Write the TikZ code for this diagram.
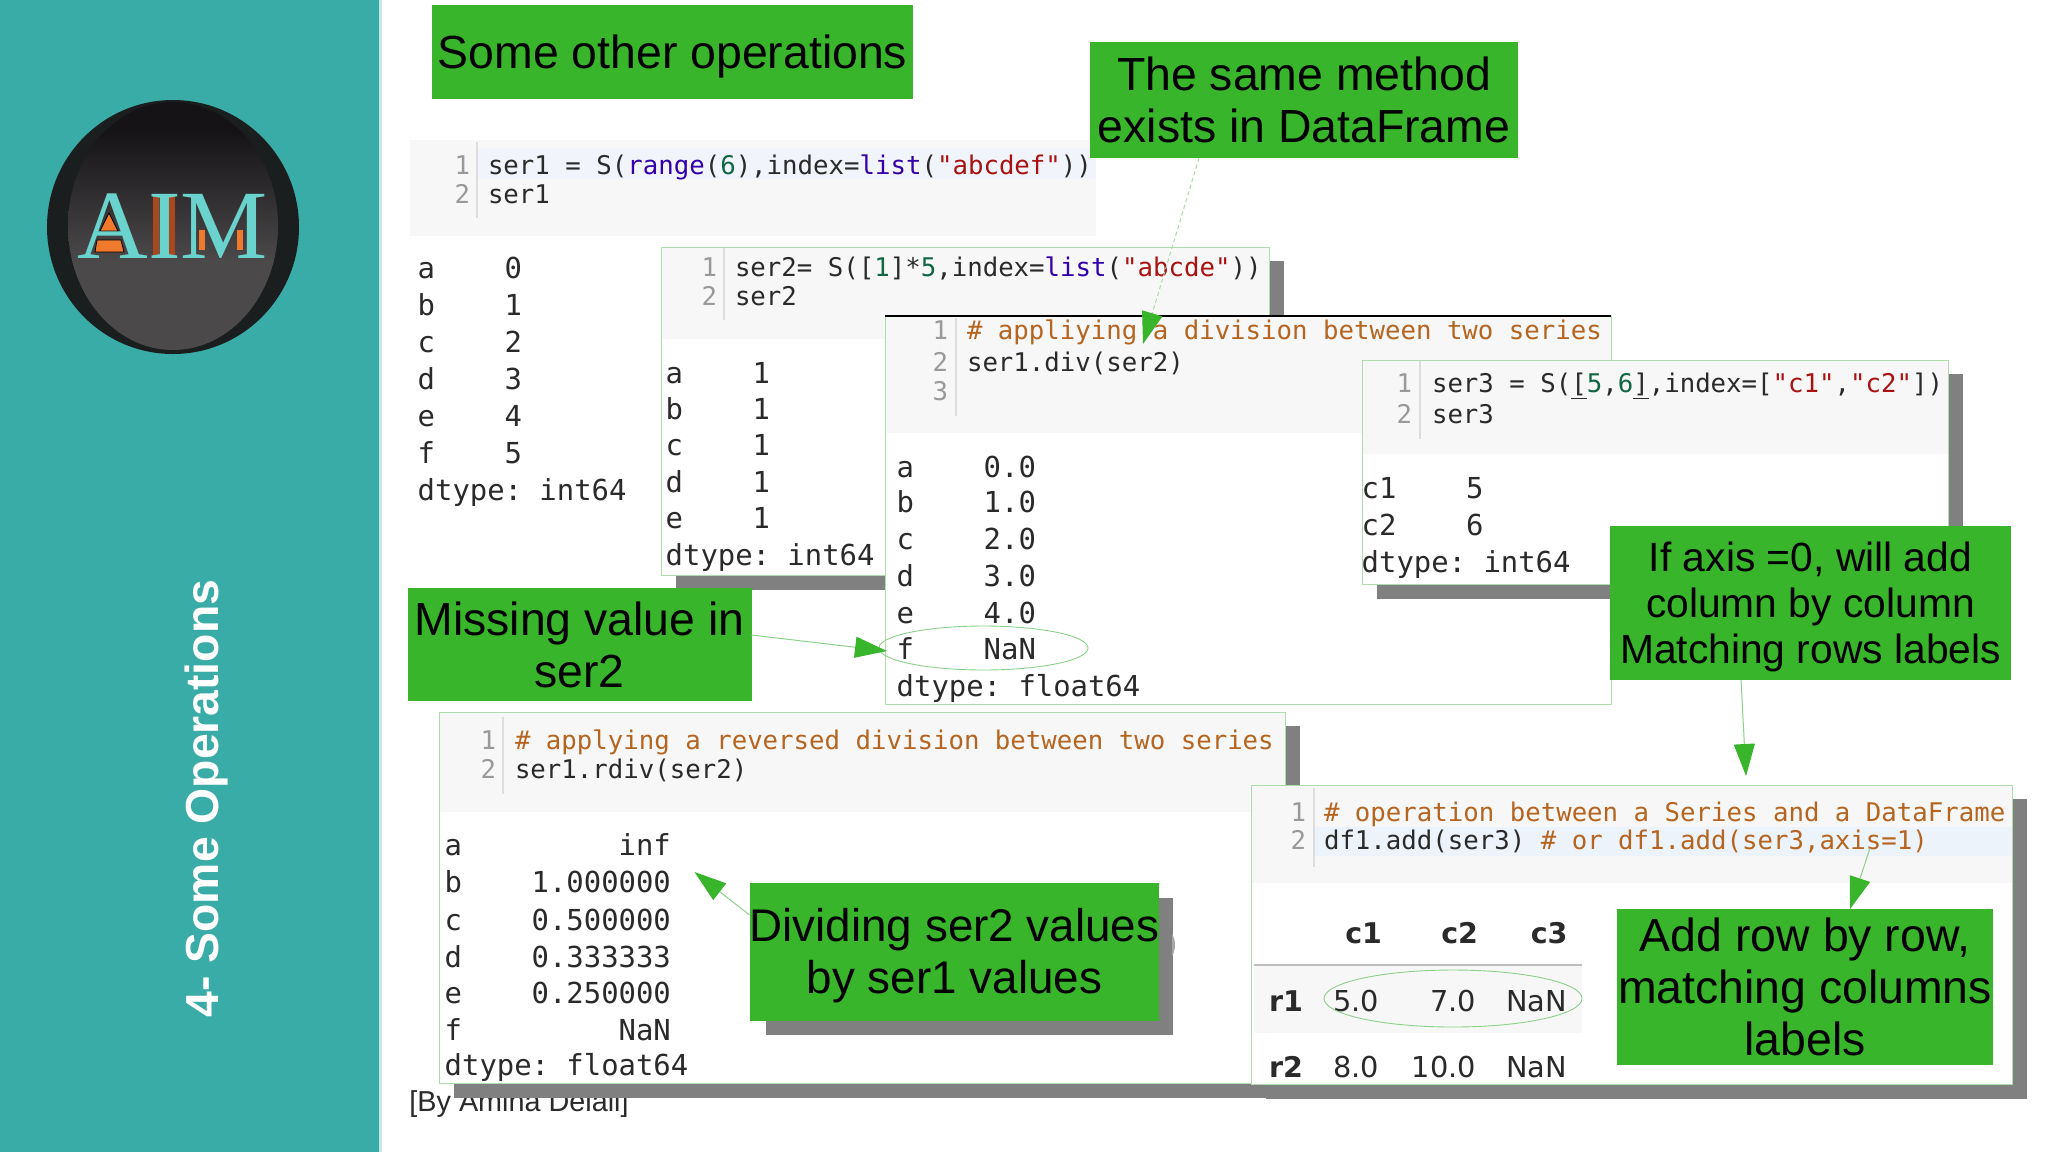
\documentclass[tikz,border=0pt]{standalone}
\usepackage{fontspec}
\setmainfont{Liberation Sans}
\newfontfamily\monof{DejaVu Sans Mono}
\newfontfamily\djf{DejaVu Sans}
\newfontfamily\lserif{Liberation Serif}
\usetikzlibrary{arrows.meta,shapes.geometric}
\definecolor{teal1}{HTML}{3AACA8}
\definecolor{teal2}{HTML}{C4E6E5}
\definecolor{gboxc}{HTML}{38B52B}
\definecolor{shadowc}{HTML}{808080}
\definecolor{cellbg}{HTML}{F7F7F7}
\definecolor{hlbg}{HTML}{F1F4FB}
\definecolor{hlbgb}{HTML}{EDF3FB}
\definecolor{cellb}{HTML}{AEDCAB}
\definecolor{connc}{HTML}{8CD08A}
\definecolor{conndc}{HTML}{A8DBA6}
\definecolor{gutc}{HTML}{DDDDDD}
\definecolor{numc}{HTML}{999999}
\definecolor{codec}{HTML}{2A2A2A}
\definecolor{kwc}{HTML}{3300AA}
\definecolor{numb}{HTML}{116644}
\definecolor{strc}{HTML}{AA1111}
\definecolor{comc}{HTML}{B5651F}
\definecolor{aimc}{HTML}{6AD3CE}
\definecolor{aimo}{HTML}{F07A2C}
\definecolor{aimd}{HTML}{A8481C}
\definecolor{logoa}{HTML}{151315}
\definecolor{logob}{HTML}{4B494A}
\definecolor{logorim}{HTML}{1B1E1E}
\newcommand{\cK}[1]{\textcolor{kwc}{#1}}
\newcommand{\cN}[1]{\textcolor{numb}{#1}}
\newcommand{\cS}[1]{\textcolor{strc}{#1}}
\newcommand{\cC}[1]{\textcolor{comc}{#1}}
\newcommand{\topgap}[1]{\rule{0pt}{#1}}
\tikzset{
  codetxt/.style={inner sep=0pt,outer sep=0pt,anchor=base west,text=codec,font=\fontsize{12.86}{15}\selectfont\monof},
  numtxt/.style={inner sep=0pt,outer sep=0pt,anchor=base east,text=numc,font=\fontsize{12.86}{15}\selectfont\monof},
  outtxt/.style={inner sep=0pt,outer sep=0pt,anchor=base west,text=codec,font=\fontsize{14.45}{17}\selectfont\monof},
  tabtxt/.style={inner sep=0pt,outer sep=0pt,anchor=base east,text=codec,font=\fontsize{14.4}{17}\selectfont\djf},
  tabhead/.style={tabtxt,font=\fontsize{14.25}{17}\selectfont\djf\bfseries},
  gbox/.style={fill=gboxc,inner sep=0pt,outer sep=0pt,align=center,text=black,font=\fontsize{23.2}{26}\selectfont},
  gsmall/.style={gbox,font=\fontsize{20.4}{23}\selectfont},
  ring/.style={ellipse,draw=connc,line width=0.45pt,inner sep=0pt,outer sep=0pt},
  conn/.style={draw=connc,line width=0.5pt,-{Triangle[length=16pt,width=10.5pt,color=gboxc,fill=gboxc]}},
  connd/.style={conn,draw=conndc,dash pattern=on 2pt off 1.5pt}
}
% shadow, white cell, grey code area, border:  x1 y1 x2 y2 ybg
\newcommand{\cellframe}[5]{%
  \fill[shadowc] (#1+15,#2+14) rectangle (#3+15,#4+15);
  \fill[white] (#1,#2) rectangle (#3,#4);
  \fill[cellbg] (#1,#2) rectangle (#3,#5);
  \draw[cellb,line width=0.5pt] (#1,#2) rectangle (#3,#4);
}
\newcommand{\gutter}[3]{\draw[gutc,line width=0.6pt] (#1,#2) -- (#1,#3);}
\begin{document}
\begin{tikzpicture}[x=0.5pt,y=-0.5pt]
\useasboundingbox (0,0) rectangle (2048,1152);
\fill[white] (0,0) rectangle (2048,1152);
% sidebar
\fill[teal1] (0,0) rectangle (379,1152);
\fill[teal2] (379,0) rectangle (382,1152);
\node[inner sep=0pt,anchor=base,rotate=90,text=white,font=\fontsize{23.15}{27}\selectfont\bfseries] (side) at (218,798.5) {4- Some Operations};
% logo
\fill[logorim] (173,227) ellipse [x radius=126,y radius=127];
\begin{scope}
  \clip (173,226) ellipse [x radius=105,y radius=124];
  \fill[logoa] (60,95) rectangle (290,150);
  \shade[top color=logoa,bottom color=logob] (60,130) rectangle (290,262);
  \fill[logob] (60,262) rectangle (290,360);
\end{scope}
\fill[aimo,draw=black,line width=0.4pt] (109,213) -- (100,231) -- (118,231) -- cycle;
\fill[aimo,draw=black,line width=0.4pt] (97,240) -- (95,252) -- (124,252) -- (121,240) -- cycle;
\fill[aimd] (153,196) rectangle (159,258);
\fill[aimd] (169,196) rectangle (175,258);
\fill[aimo] (199,230) rectangle (205,250);
\fill[aimo] (237,230) rectangle (243,250);
\node[inner sep=0pt,anchor=base west,text=aimc,font=\fontsize{49}{50}\selectfont\lserif] (aim) at (77,258) {AIM};

% cell 0: ser1
\fill[cellbg] (410,140) rectangle (1096,236);
\fill[hlbg] (478,148) rectangle (1096,179);
\gutter{477}{142}{218}
\node[numtxt] (n01) at (470,174) {1};
\node[numtxt] (n02) at (470,203) {2};
\node[codetxt] (c01) at (488,174) {ser1 = S(\cK{range}(\cN{6}),index=\cK{list}(\cS{"abcdef"}))};
\node[codetxt] (c02) at (488,203) {ser1};
\foreach \n/\yy/\txt in {a/278/a~~~~0,b/315.5/b~~~~1,c/352/c~~~~2,d/389/d~~~~3,e/426/e~~~~4,f/463/f~~~~5,g/500/dtype:~int64}
  \node[outtxt] (o1\n) at (417.7,\yy) {\txt};

% credit, under the shadows
\node[inner sep=0pt,anchor=base west,text=codec,font=\fontsize{14.4}{17}\selectfont] (credit) at (409,1111) {[By Amina Delali]};

% cell: ser2
\cellframe{661}{247}{1269}{575}{339}
\gutter{724}{248}{320}
\node[numtxt] (n11) at (717,276) {1};
\node[numtxt] (n12) at (717,305) {2};
\node[codetxt] (c11) at (735,276) {ser2= S([\cN{1}]*\cN{5},index=\cK{list}(\cS{"abcde"}))};
\node[codetxt] (c12) at (735,305) {ser2};
\foreach \n/\yy/\txt in {a/383/a~~~~1,b/419/b~~~~1,c/455/c~~~~1,d/492/d~~~~1,e/528/e~~~~1,g/565/dtype:~int64}
  \node[outtxt] (o2\n) at (665.7,\yy) {\txt};

% cell: div
\fill[white] (885,316) rectangle (1611,704);
\fill[cellbg] (885,316) rectangle (1611,433);
\draw[cellb,line width=0.5pt] (885,316) -- (885,704) -- (1611,704) -- (1611,316);
\draw[black,line width=1.3pt] (885,316) -- (1611,316);
\gutter{956}{318}{416}
\node[numtxt] (n21) at (948,339) {1};
\node[numtxt] (n22) at (948,371) {2};
\node[numtxt] (n23) at (948,400) {3};
\node[codetxt] (c21) at (967,339) {\cC{\# appliying a division between two series}};
\node[codetxt] (c22) at (967,371) {ser1.div(ser2)};
\foreach \n/\yy/\txt in {a/477/a~~~~0.0,b/512/b~~~~1.0,c/549/c~~~~2.0,d/586/d~~~~3.0,e/623/e~~~~4.0,f/659/f~~~~NaN,g/696/dtype:~float64}
  \node[outtxt] (o3\n) at (896.7,\yy) {\txt};
\node[ring,minimum width=104.5pt,minimum height=22pt] (fring) at (983.5,648) {};

% cell: ser3
\cellframe{1362}{360}{1948}{584}{454}
\gutter{1420}{361}{439}
\node[numtxt] (n31) at (1412,392) {1};
\node[numtxt] (n32) at (1412,423) {2};
\node[codetxt] (c31) at (1432,392) {ser3 = S(\underline{[}\cN{5},\cN{6}\underline{]},index=[\cS{"c1"},\cS{"c2"}])};
\node[codetxt] (c32) at (1432,423) {ser3};
\foreach \n/\yy/\txt in {a/498/c1~~~~5,b/535/c2~~~~6,g/572/dtype:~int64}
  \node[outtxt] (o4\n) at (1361.7,\yy) {\txt};

% cell: rdiv
\cellframe{439}{712}{1285}{1083}{812}
\gutter{503}{717}{794}
\node[numtxt] (n41) at (496,749) {1};
\node[numtxt] (n42) at (496,778) {2};
\node[codetxt] (c41) at (515,749) {\cC{\# applying a reversed division between two series}};
\node[codetxt] (c42) at (515,778) {ser1.rdiv(ser2)};
\foreach \n/\yy/\txt in {a/855/a~~~~~~~~~inf,b/892/b~~~~1.000000,c/930/c~~~~0.500000,d/967/d~~~~0.333333,e/1003/e~~~~0.250000,f/1040/f~~~~~~~~~NaN,g/1075/dtype:~float64}
  \node[outtxt] (o5\n) at (444.7,\yy) {\txt};

% cell: DataFrame
\cellframe{1251}{785}{2012}{1084}{883}
\fill[hlbgb] (1315,827) rectangle (2012,856);
\gutter{1314}{788}{867}
\node[numtxt] (n51) at (1306,821) {1};
\node[numtxt] (n52) at (1306,849) {2};
\node[codetxt] (c51) at (1324,821) {\cC{\# operation between a Series and a DataFrame}};
\node[codetxt] (c52) at (1324,849) {df1.add(ser3) \cC{\# or df1.add(ser3,axis=1)}};
\fill[cellbg] (1254,966) rectangle (1582,1033);
\draw[black!25,line width=1pt] (1254,965) -- (1582,965);
\node[tabhead] (th1) at (1382,943) {c1};
\node[tabhead] (th2) at (1478,943) {c2};
\node[tabhead] (th3) at (1567.5,943) {c3};
\node[tabhead] (r1) at (1303,1011) {r1};
\node[tabtxt] (r1a) at (1379,1011) {5.0};
\node[tabtxt] (r1b) at (1476,1011) {7.0};
\node[tabtxt] (r1c) at (1567,1011) {NaN};
\node[tabhead] (r2) at (1303,1077) {r2};
\node[tabtxt] (r2a) at (1379,1077) {8.0};
\node[tabtxt] (r2b) at (1476,1077) {10.0};
\node[tabtxt] (r2c) at (1567,1077) {NaN};
\node[ring,minimum width=129pt,minimum height=28.5pt] (r1ring) at (1453,998.5) {};

% green boxes
\fill[shadowc] (766,898) rectangle (1173,1035);
\fill[black!35] (1172,934) .. controls (1176,940) and (1176,950) .. (1172,956) -- cycle;
\node[gbox,minimum width=240.5pt,minimum height=47pt] (title) at (672.5,52) {\topgap{21pt}Some other operations};
\node[gbox,minimum width=214pt,minimum height=58pt] (same) at (1304,100) {The same method\\exists in DataFrame};
\node[gbox,minimum width=172pt,minimum height=56.5pt] (miss) at (579.5,644.5) {Missing value in\\ser2};
\node[gsmall,minimum width=200.5pt,minimum height=77pt] (ifaxis) at (1810.5,603) {\topgap{18.6pt}If axis =0, will add\\column by column\\Matching rows labels};
\node[gbox,minimum width=203.5pt,minimum height=69pt,font=\fontsize{22.9}{26}\selectfont] (dividing) at (954.5,952) {\topgap{20.7pt}Dividing ser2 values\\by ser1 values};
\node[gbox,minimum width=188pt,minimum height=78pt] (addbox) at (1805,987) {Add row by row,\\matching columns\\labels};

% connectors
\coordinate (tipf) at (887,651);
\coordinate (tipdiv) at (1143,344);
\coordinate (tipdf) at (1746,776);
\coordinate (tiprd) at (694.5,872);
\coordinate (startadd) at (1870,848);
\draw[conn] ([yshift=4.75pt]miss.east) -- (tipf);
\draw[connd] ([xshift=54.5pt]same.south west) -- (tipdiv);
\draw[conn] ([xshift=65.5pt]ifaxis.south west) -- (tipdf);
\draw[conn] ([yshift=-16pt]dividing.north west) -- (tiprd);
\draw[conn] (startadd) -- ([xshift=116.5pt]addbox.north west);
\end{tikzpicture}
\end{document}
